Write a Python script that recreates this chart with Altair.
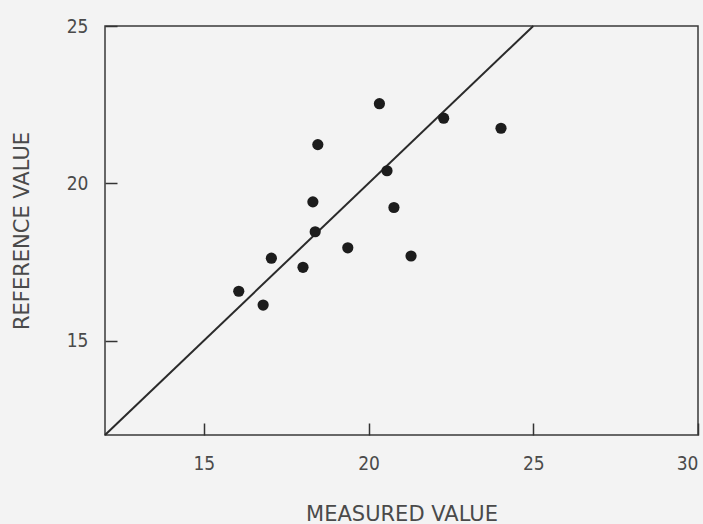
import altair as alt
import pandas as pd

# Data
measured = [20.33, 22.28, 24.02, 18.46, 20.56, 18.31, 20.77, 18.38, 19.37, 21.29, 17.05, 18.01, 16.80, 16.06]
reference = [22.53, 22.07, 21.75, 21.23, 20.40, 19.41, 19.23, 18.46, 17.95, 17.69, 17.62, 17.33, 16.13, 16.57]
line_x = [12, 25]
line_y = [12, 25]
x_ticks = [15, 20, 25, 30]
y_ticks = [15, 20, 25]

pts = pd.DataFrame({"m": measured, "r": reference})
ln = pd.DataFrame({"m": line_x, "r": line_y})

FONT = "DejaVu Sans Condensed"
TFONT = "DejaVu Sans"
GREY = "#4a4a4a"

xscale = alt.Scale(domain=[12, 30], nice=False, zero=False)
yscale = alt.Scale(domain=[12, 25], nice=False, zero=False)

points = alt.Chart(pts).mark_circle(size=125, color="#1c1c1c", opacity=1).encode(
    x=alt.X("m:Q", scale=xscale,
            axis=alt.Axis(orient="bottom", title="MEASURED VALUE", values=x_ticks, ticks=False, domain=False,
                          grid=False, labelPadding=19, labelFontSize=19, labelFont=FONT,
                          labelColor=GREY, titleFont=TFONT, titleFontSize=21, titleFontWeight="normal",
                          titleColor=GREY, titlePadding=30)),
    y=alt.Y("r:Q", scale=yscale,
            axis=alt.Axis(orient="left", title="REFERENCE VALUE", values=y_ticks, ticks=False, domain=False,
                          grid=False, labelPadding=17, labelFontSize=19, labelFont=FONT,
                          labelColor=GREY, titleFont=TFONT, titleFontSize=21, titleFontWeight="normal",
                          titleColor=GREY, titlePadding=34)),
)

line = alt.Chart(ln).mark_line(color="#2a2a2a", strokeWidth=2).encode(
    x=alt.X("m:Q", scale=xscale,
            axis=alt.Axis(orient="bottom", title=None, values=x_ticks, labels=False, domain=False, grid=False,
                          ticks=True, tickSize=12, offset=-12, tickColor="#333", tickWidth=1.5)),
    y=alt.Y("r:Q", scale=yscale,
            axis=alt.Axis(orient="left", title=None, values=y_ticks, labels=False, domain=False, grid=False,
                          ticks=True, tickSize=12, offset=-12, tickColor="#333", tickWidth=1.5)),
)

chart = alt.layer(line, points).resolve_axis(x="independent", y="independent").properties(
    width=593, height=409,
    autosize=alt.AutoSizeParams(type="none"),
    padding={"left": 105, "top": 26, "right": 5, "bottom": 89},
    background="#f3f3f3",
).configure_view(stroke="#3a3a3a", strokeWidth=1.5)

chart.save("out.html", embed_options={"renderer": "svg", "actions": False})
